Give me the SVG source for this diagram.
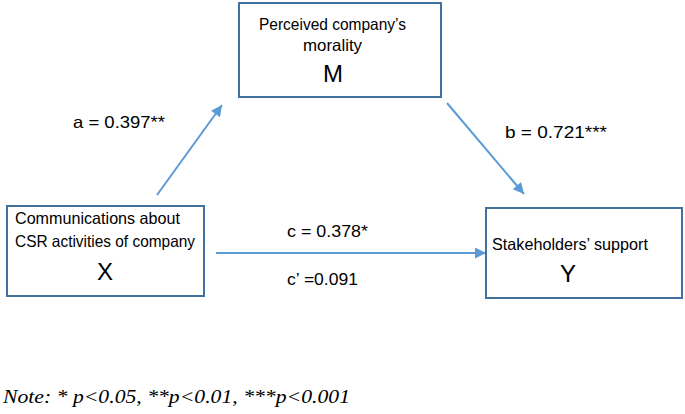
<svg xmlns="http://www.w3.org/2000/svg" width="685" height="414" viewBox="0 0 685 414">
<style>
.box{fill:#fff;stroke:#41719C;stroke-width:2}
.t{font-family:"Liberation Sans",Arial,sans-serif;font-size:16.5px;fill:#000}
.big{font-family:"Liberation Sans",Arial,sans-serif;font-size:24px;fill:#000;text-anchor:middle}
.lbl{font-family:"Liberation Sans",Arial,sans-serif;font-size:16.5px;fill:#000}
.conn{stroke:#5B9BD5;stroke-width:2;fill:none;marker-end:url(#ah)}
.note{font-family:"Liberation Serif","Times New Roman",serif;font-style:italic;font-size:18px;fill:#000}
</style>
<defs>
<marker id="ah" viewBox="0 0 10 10" refX="10" refY="5" markerWidth="6.5" markerHeight="5.5" markerUnits="strokeWidth" orient="auto">
<path d="M0,0 L10,5 L0,10 z" fill="#5B9BD5"/>
</marker>
</defs>
<rect width="685" height="414" fill="#fff"/>
<g id="connectors">
<line class="conn" x1="157" y1="195" x2="222" y2="105"/>
<line class="conn" x1="447" y1="103" x2="524" y2="194"/>
<line class="conn" x1="216" y1="253" x2="486" y2="253"/>
</g>
<g id="node-M">
<rect class="box" x="239" y="3" width="202" height="94"/>
<text class="t" x="259" y="30" textLength="147" lengthAdjust="spacingAndGlyphs">Perceived company’s</text>
<text class="t" x="303" y="51" textLength="59" lengthAdjust="spacingAndGlyphs">morality</text>
<text class="big" x="333" y="82">M</text>
</g>
<g id="node-X">
<rect class="box" x="7" y="206" width="197" height="90"/>
<text class="t" x="15" y="224" textLength="165" lengthAdjust="spacingAndGlyphs">Communications about</text>
<text class="t" x="15" y="247" textLength="180" lengthAdjust="spacingAndGlyphs">CSR activities of company</text>
<text class="big" x="105" y="280">X</text>
</g>
<g id="node-Y">
<rect class="box" x="486" y="208" width="196" height="90"/>
<text class="t" x="492" y="250" textLength="156" lengthAdjust="spacingAndGlyphs">Stakeholders’ support</text>
<text class="big" x="568" y="282">Y</text>
</g>
<g id="labels">
<text class="lbl" x="73" y="128" textLength="92" lengthAdjust="spacingAndGlyphs">a = 0.397**</text>
<text class="lbl" x="505" y="138" textLength="102" lengthAdjust="spacingAndGlyphs">b = 0.721***</text>
<text class="lbl" x="287" y="237" textLength="81" lengthAdjust="spacingAndGlyphs">c = 0.378*</text>
<text class="lbl" x="287" y="285" textLength="71" lengthAdjust="spacingAndGlyphs">c’ =0.091</text>
</g>
<text class="note" x="3" y="403" textLength="347" lengthAdjust="spacingAndGlyphs">Note: * p&lt;0.05, **p&lt;0.01, ***p&lt;0.001</text>
</svg>
